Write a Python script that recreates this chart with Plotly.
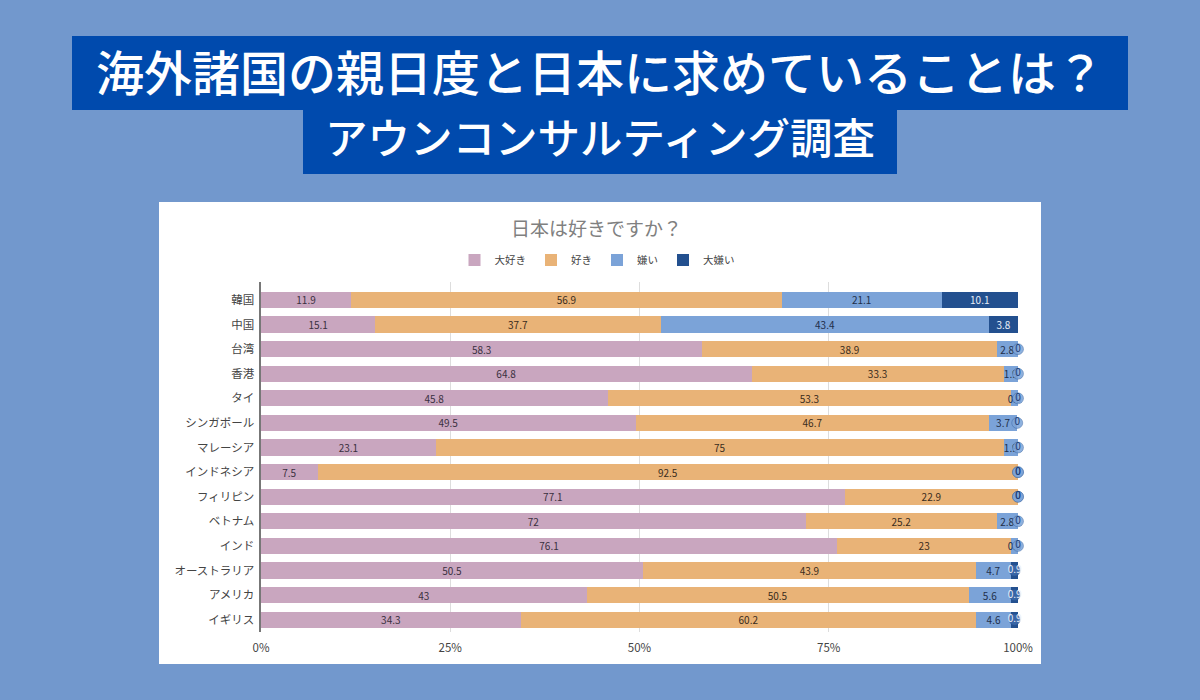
#!/usr/bin/env python3
# -*- coding: utf-8 -*-
import plotly.graph_objects as go

countries = ["韓国", "中国", "台湾", "香港", "タイ", "シンガポール", "マレーシア",
	"インドネシア", "フィリピン", "ベトナム", "インド", "オーストラリア", "アメリカ", "イギリス"]
daisuki = [11.9, 15.1, 58.3, 64.8, 45.8, 49.5, 23.1, 7.5, 77.1, 72, 76.1, 50.5, 43, 34.3]
suki = [56.9, 37.7, 38.9, 33.3, 53.3, 46.7, 75, 92.5, 22.9, 25.2, 23, 43.9, 50.5, 60.2]
kirai = [21.1, 43.4, 2.8, 1.9, 0.9, 3.7, 1.9, 0, 0, 2.8, 0.9, 4.7, 5.6, 4.6]
daikirai = [10.1, 3.8, 0, 0, 0, 0, 0, 0, 0, 0, 0, 0.9, 0.9, 0.9]

series = [("大好き", daisuki, "#c9a6bf", "#3a3040"),
	("好き", suki, "#e9b377", "#3a2c1c"),
	("嫌い", kirai, "#7ba3d8", "#1f2f4a"),
	("大嫌い", daikirai, "#23508f", "#e8eef8")]

FONT = "Noto Sans CJK JP"
W, H = 1200, 700

def px_x(v): return v / W
def px_y(v): return 1 - v / H

fig = go.Figure()
for name, vals, color, txt in series:
	labels = [f"{v:g}" if v > 0 else "" for v in vals]
	if name == "大嫌い": # the thin ones are drawn as bubbles below
		labels = [f"{v:g}" if v > 2 else "" for v in vals]
	fig.add_trace(go.Bar(y=countries, x=vals, name=name, orientation="h",
		marker=dict(color=color, line=dict(width=0)),
		text=labels, textposition="inside", insidetextanchor="middle",
		constraintext="none", textangle=0, cliponaxis=False,
		textfont=dict(family=FONT, size=10, color=txt)))

# small rounded labels at the end of each bar
bx, by, bt, bc, fills = [], [], [], [], []
for i, c in enumerate(countries):
	base3 = daisuki[i] + suki[i]
	if kirai[i] == 0:
		bx.append(base3); by.append(c); bt.append("0"); bc.append("#1f3f78")
		fills.append("rgba(123,163,216,0.85)")
	if daikirai[i] < 2:
		bx.append(base3 + kirai[i] + daikirai[i] / 2); by.append(c)
		bt.append(f"{daikirai[i]:g}")
		bc.append("#e8eef8" if daikirai[i] > 0 else "#1f3f78")
		fills.append("rgba(60,105,170,0.85)" if daikirai[i] > 0 else "rgba(123,163,216,0.85)")
fig.add_trace(go.Scatter(x=bx, y=by, mode="markers+text", text=bt, showlegend=False,
	textposition="middle center", cliponaxis=False, hoverinfo="skip",
	textfont=dict(family=FONT, size=10, color=bc),
	marker=dict(size=11, color=fills, line=dict(color="rgba(35,80,143,0.35)", width=1))))

# white panel and title boxes
fig.add_shape(type="rect", xref="paper", yref="paper", layer="below", line_width=0,
	x0=px_x(159), x1=px_x(1041), y0=px_y(664), y1=px_y(202), fillcolor="#ffffff")
fig.add_shape(type="rect", xref="paper", yref="paper", layer="below", line_width=0,
	x0=px_x(72), x1=px_x(1128), y0=px_y(110), y1=px_y(36), fillcolor="#004aad")
fig.add_shape(type="rect", xref="paper", yref="paper", layer="below", line_width=0,
	x0=px_x(303), x1=px_x(897), y0=px_y(174), y1=px_y(110), fillcolor="#004aad")

fig.add_annotation(text="海外諸国の親日度と日本に求めていることは？", xref="paper", yref="paper",
	x=px_x(600), y=px_y(70), xanchor="center", yanchor="middle", showarrow=False,
	font=dict(family=FONT, size=48, weight=500, color="#ffffff"))
fig.add_annotation(text="アウンコンサルティング調査", xref="paper", yref="paper",
	x=px_x(600), y=px_y(135), xanchor="center", yanchor="middle", showarrow=False,
	font=dict(family=FONT, size=42.5, weight=500, color="#ffffff"))
fig.add_annotation(text="日本は好きですか？", xref="paper", yref="paper",
	x=px_x(596), y=px_y(227), xanchor="center", yanchor="middle", showarrow=False,
	font=dict(family=FONT, size=19, color="#808080"))

fig.update_layout(width=W, height=H, barmode="stack", bargap=0.34,
	margin=dict(l=0, r=0, t=0, b=0, autoexpand=False), autosize=False,
	paper_bgcolor="#7298cd", plot_bgcolor="#ffffff",
	font=dict(family=FONT, color="#444444"),
	legend=dict(orientation="h", xanchor="center", yanchor="middle",
		x=px_x(597), y=px_y(260), font=dict(family=FONT, size=10.5, color="#444444"),
		bgcolor="rgba(0,0,0,0)", traceorder="normal"),
	xaxis=dict(domain=[px_x(261), px_x(1018)], range=[0, 100], tickvals=[0, 25, 50, 75, 100],
		ticktext=["0%", "25%", "50%", "75%", "100%"], showgrid=True, gridcolor="#dddddd",
		zeroline=False, ticks="", ticklabelstandoff=7, tickfont=dict(size=11.5, color="#444444")),
	yaxis=dict(domain=[px_y(632), px_y(282)], range=[13.5, -0.73], type="category",
		categoryorder="array", categoryarray=countries, showline=True, linecolor="#777777",
		linewidth=1.5, ticks="", ticksuffix=" ", tickfont=dict(size=11.5, color="#444444")))

# page margin off, so the figure fills the window
fig.write_html("out.html", config=dict(displayModeBar=False),
	post_script="document.body.style.margin='0';document.documentElement.style.overflow='hidden';")
